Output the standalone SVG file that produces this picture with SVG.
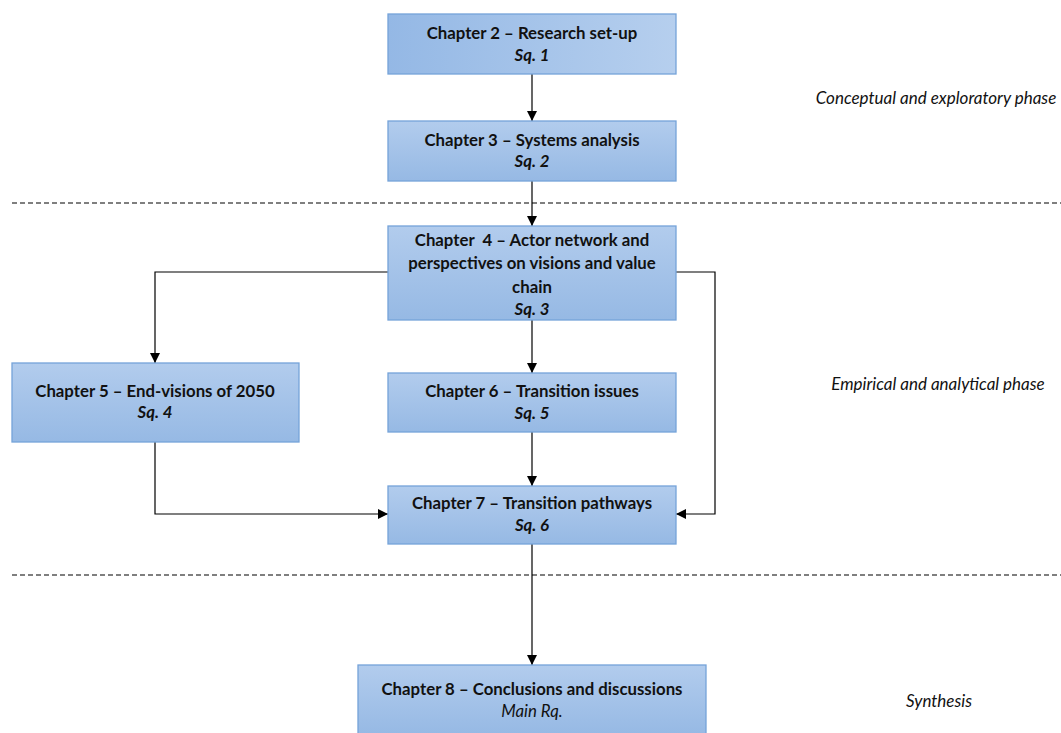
<svg xmlns="http://www.w3.org/2000/svg" width="1061" height="733" viewBox="0 0 1061 733">
<style>
.box{stroke:#75a3d9;stroke-width:1.3;fill:url(#gv)}
.t{font-family:Lato,"Open Sans",sans-serif;font-size:16.8px;font-weight:bold;fill:#111;text-anchor:middle;white-space:pre}
.i{font-style:italic}
.ph{font-family:Lato,"Open Sans",sans-serif;font-size:17px;font-style:italic;fill:#111;text-anchor:middle}
.c{fill:none;stroke:#000;stroke-width:1.2;marker-end:url(#ah)}
.d{stroke:#555;stroke-width:1.3;stroke-dasharray:5 3;fill:none}
</style>
<defs>
<linearGradient id="gv" x1="0" y1="0" x2="0" y2="1">
<stop offset="0" stop-color="#b2cced"/>
<stop offset="1" stop-color="#96b9e4"/>
</linearGradient>
<linearGradient id="gh" x1="0" y1="0" x2="1" y2="0">
<stop offset="0" stop-color="#94b8e5"/>
<stop offset="1" stop-color="#b6cfee"/>
</linearGradient>
<marker id="ah" viewBox="0 0 10 10" refX="10" refY="5" markerWidth="10" markerHeight="10" markerUnits="userSpaceOnUse" orient="auto">
<path d="M0,0 L10,5 L0,10 Z" fill="#000"/>
</marker>
</defs>
<rect width="1061" height="733" fill="#fff"/>
<g id="separators">
<line class="d" x1="12" y1="203" x2="1061" y2="203"/>
<line class="d" x1="12" y1="575" x2="1061" y2="575"/>
</g>
<g id="connectors">
<path class="c" d="M532,74 V121"/>
<path class="c" d="M532,181 V226"/>
<path class="c" d="M388,272 H155 V363"/>
<path class="c" d="M532,320 V373"/>
<path class="c" d="M676,272 H715 V514 H676"/>
<path class="c" d="M155,442 V514 H388"/>
<path class="c" d="M532,432 V486"/>
<path class="c" d="M532,544 V665"/>
</g>
<g id="n1">
<rect class="box" x="388" y="14" width="288" height="60" style="fill:url(#gh)"/>
<text class="t" x="532" y="39">Chapter 2 – Research set-up</text>
<text class="t i" x="532" y="61">Sq. 1</text>
</g>
<g id="n2">
<rect class="box" x="388" y="121" width="288" height="60"/>
<text class="t" x="532" y="146">Chapter 3 – Systems analysis</text>
<text class="t i" x="532" y="167">Sq. 2</text>
</g>
<g id="n3">
<rect class="box" x="388" y="226" width="288" height="94"/>
<text class="t" x="532" y="246" xml:space="preserve">Chapter  4 – Actor network and</text>
<text class="t" x="532" y="269">perspectives on visions and value</text>
<text class="t" x="532" y="293">chain</text>
<text class="t i" x="532" y="315">Sq. 3</text>
</g>
<g id="n5">
<rect class="box" x="12" y="363" width="287" height="79"/>
<text class="t" x="155" y="397">Chapter 5 – End-visions of 2050</text>
<text class="t i" x="155" y="418">Sq. 4</text>
</g>
<g id="n6">
<rect class="box" x="388" y="373" width="288" height="59"/>
<text class="t" x="532" y="397">Chapter 6 – Transition issues</text>
<text class="t i" x="532" y="419">Sq. 5</text>
</g>
<g id="n7">
<rect class="box" x="388" y="486" width="288" height="58"/>
<text class="t" x="532" y="509">Chapter 7 – Transition pathways</text>
<text class="t i" x="532" y="531">Sq. 6</text>
</g>
<g id="n8">
<rect class="box" x="358" y="665" width="348" height="70"/>
<text class="t" x="532" y="695">Chapter 8 – Conclusions and discussions</text>
<text class="t i" x="532" y="717" style="font-weight:normal">Main Rq.</text>
</g>
<g id="phases">
<text class="ph" x="936" y="104">Conceptual and exploratory phase</text>
<text class="ph" x="938" y="390">Empirical and analytical phase</text>
<text class="ph" x="939" y="707">Synthesis</text>
</g>
</svg>
